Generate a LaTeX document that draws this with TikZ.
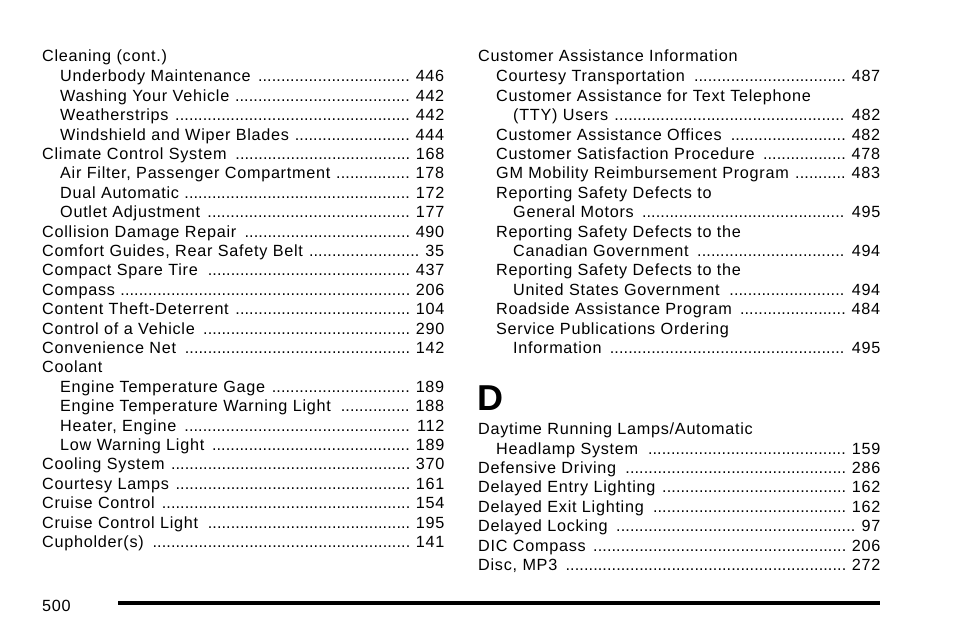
\documentclass[tikz,border=0pt]{standalone}
\usepackage{fontspec}
\setmainfont[LetterSpace=4.5]{Liberation Sans}
\newfontfamily\dfont{Liberation Sans}
\newcommand{\myldr}{\leaders\hbox to 4.6pt{\hss.\hss}\hfill}
\newcommand{\ent}[5]{\pgfmathsetmacro\tw{#5-#1}\node[idx,text width=\tw pt] at (#1,#2+6) {#3\ifx&#4&\else\ \myldr\hspace{5pt}#4\fi};}
\begin{document}
\begin{tikzpicture}[x=1pt,y=-1pt,idx/.style={anchor=base west,inner sep=0pt,align=left,font=\fontsize{16.2}{19}\selectfont}]
\useasboundingbox (0,0) rectangle (954,636);
\fill[white] (0,0) rectangle (954,636);
% left column
\ent{42}{56}{Cleaning (cont.)}{}{444}
\ent{60}{76}{Underbody Maintenance}{446}{444}
\ent{60}{95.4}{Washing Your Vehicle}{442}{444}
\ent{60}{114.8}{Weatherstrips}{442}{444}
\ent{60}{134.2}{Windshield and Wiper Blades}{444}{444}
\ent{42}{153.6}{Climate Control System}{168}{444}
\ent{60}{173}{Air Filter, Passenger Compartment}{178}{444}
\ent{60}{192.4}{Dual Automatic}{172}{444}
\ent{60}{211.8}{Outlet Adjustment}{177}{444}
\ent{42}{231.2}{Collision Damage Repair}{490}{444}
\ent{42}{250.6}{Comfort Guides, Rear Safety Belt}{35}{444}
\ent{42}{270}{Compact Spare Tire}{437}{444}
\ent{42}{289.4}{Compass}{206}{444}
\ent{42}{308.8}{Content Theft-Deterrent}{104}{444}
\ent{42}{328.2}{Control of a Vehicle}{290}{444}
\ent{42}{347.6}{Convenience Net}{142}{444}
\ent{42}{367}{Coolant}{}{444}
\ent{60}{386.4}{Engine Temperature Gage}{189}{444}
\ent{60}{405.8}{Engine Temperature Warning Light}{188}{444}
\ent{60}{425.2}{Heater, Engine}{112}{444}
\ent{60}{444.6}{Low Warning Light}{189}{444}
\ent{42}{464}{Cooling System}{370}{444}
\ent{42}{483.4}{Courtesy Lamps}{161}{444}
\ent{42}{502.8}{Cruise Control}{154}{444}
\ent{42}{522.2}{Cruise Control Light}{195}{444}
\ent{42}{541.6}{Cupholder(s)}{141}{444}
% right column
\ent{478}{56}{Customer Assistance Information}{}{880}
\ent{496}{76}{Courtesy Transportation}{487}{880}
\ent{496}{95.4}{Customer Assistance for Text Telephone}{}{880}
\ent{513}{114.8}{(TTY) Users}{482}{880}
\ent{496}{134.2}{Customer Assistance Offices}{482}{880}
\ent{496}{153.6}{Customer Satisfaction Procedure}{478}{880}
\ent{496}{173}{GM Mobility Reimbursement Program}{483}{880}
\ent{496}{192.4}{Reporting Safety Defects to}{}{880}
\ent{513}{211.8}{General Motors}{495}{880}
\ent{496}{231.2}{Reporting Safety Defects to the}{}{880}
\ent{513}{250.6}{Canadian Government}{494}{880}
\ent{496}{270}{Reporting Safety Defects to the}{}{880}
\ent{513}{289.4}{United States Government}{494}{880}
\ent{496}{308.8}{Roadside Assistance Program}{484}{880}
\ent{496}{328.2}{Service Publications Ordering}{}{880}
\ent{513}{347.6}{Information}{495}{880}
\node[anchor=base west,inner sep=0pt,font=\dfont\fontsize{36}{40}\selectfont\bfseries] (D) at (477,411) {D};
\ent{478}{428.5}{Daytime Running Lamps/Automatic}{}{880}
\ent{496}{448}{Headlamp System}{159}{880}
\ent{478}{467.4}{Defensive Driving}{286}{880}
\ent{478}{486.8}{Delayed Entry Lighting}{162}{880}
\ent{478}{506.2}{Delayed Exit Lighting}{162}{880}
\ent{478}{525.6}{Delayed Locking}{97}{880}
\ent{478}{545}{DIC Compass}{206}{880}
\ent{478}{564.4}{Disc, MP3}{272}{880}
% footer
\node[idx] (pg) at (42,611) {500};
\draw[line width=3.2pt] (118,603) -- (880,603);
\end{tikzpicture}
\end{document}
